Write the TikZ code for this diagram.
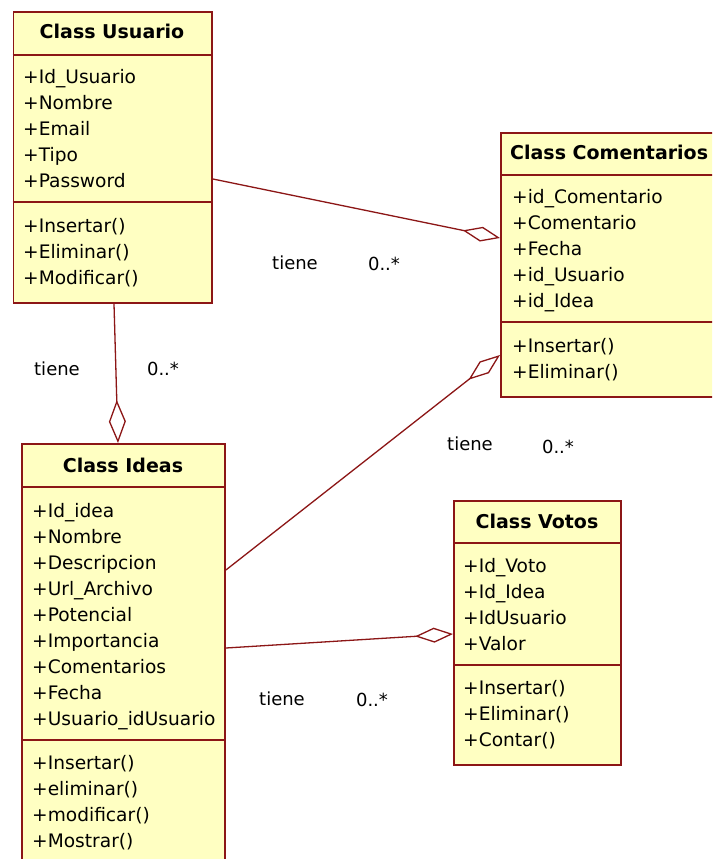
\documentclass[tikz,border=0pt]{standalone}
\usepackage{fontspec}
\setmainfont{DejaVu Sans}
\usetikzlibrary{arrows.meta}
\definecolor{umlline}{RGB}{140,22,22}
\definecolor{umlfill}{RGB}{255,255,194}
\tikzset{
  classbox/.style={draw=umlline, fill=umlfill, line width=1.9pt, rectangle, anchor=north west, inner sep=0pt},
  sepline/.style={draw=umlline, line width=1.7pt},
  member/.style={anchor=base west, inner sep=0pt, font=\fontsize{18.6}{22}\selectfont},
  ctitle/.style={anchor=base, inner sep=0pt, font=\bfseries\fontsize{19}{22}\selectfont},
  assoc/.style={draw=umlline, line width=1.3pt, -{Diamond[open, length=38pt, width=15pt]}},
  lbl/.style={inner sep=0pt, font=\fontsize{18}{22}\selectfont}
}
\begin{document}
\begin{tikzpicture}[x=1pt, y=-1pt]
\clip (0,0) rectangle (712,859);
\fill[white] (0,0) rectangle (712,859);

% ---- class boxes ----
\node[classbox, minimum width=198.5pt, minimum height=291pt] (usuario) at (12.5,11) {};
\node[classbox, minimum width=225pt, minimum height=264pt] (comentarios) at (500,132) {};
\node[classbox, minimum width=203pt, minimum height=440pt] (ideas) at (21,443) {};
\node[classbox, minimum width=167pt, minimum height=264pt] (votos) at (453,500) {};

% compartment separators
\draw[sepline] (usuario.west |- 0,55) -- (usuario.east |- 0,55);
\draw[sepline] (usuario.west |- 0,202) -- (usuario.east |- 0,202);
\draw[sepline] (comentarios.west |- 0,175) -- (comentarios.east |- 0,175);
\draw[sepline] (comentarios.west |- 0,322) -- (comentarios.east |- 0,322);
\draw[sepline] (ideas.west |- 0,487) -- (ideas.east |- 0,487);
\draw[sepline] (ideas.west |- 0,740) -- (ideas.east |- 0,740);
\draw[sepline] (votos.west |- 0,543) -- (votos.east |- 0,543);
\draw[sepline] (votos.west |- 0,665) -- (votos.east |- 0,665);

% ---- Usuario ----
\node[ctitle] (usuarioT) at (112,39) {Class Usuario};
\foreach \t [count=\i] in {+Id\_Usuario, +Nombre, +Email, +Tipo, +Password}
  \node[member] (ua\i) at (23,{57+26*\i}) {\t};
\foreach \t [count=\i] in {+Insertar(), +Eliminar(), +Modificar()}
  \node[member] (um\i) at (23,{206+26*\i}) {\t};

% ---- Comentarios ----
\node[ctitle, anchor=base west] (comentariosT) at (510,159) {Class Comentarios};
\foreach \t [count=\i] in {+id\_Comentario, +Comentario, +Fecha, +id\_Usuario, +id\_Idea}
  \node[member] (ca\i) at (512,{177+26*\i}) {\t};
\foreach \t [count=\i] in {+Insertar(), +Eliminar()}
  \node[member] (cm\i) at (512,{326+26*\i}) {\t};

% ---- Ideas ----
\node[ctitle] (ideasT) at (123,472) {Class Ideas};
\foreach \t [count=\i] in {+Id\_idea, +Nombre, +Descripcion, +Url\_Archivo, +Potencial, +Importancia, +Comentarios, +Fecha, +Usuario\_idUsuario}
  \node[member] (ia\i) at (32,{491+26*\i}) {\t};
\foreach \t [count=\i] in {+Insertar(), +eliminar(), +modificar(), +Mostrar()}
  \node[member] (im\i) at (32,{743+26*\i}) {\t};

% ---- Votos ----
\node[ctitle] (votosT) at (537,528) {Class Votos};
\foreach \t [count=\i] in {+Id\_Voto, +Id\_Idea, +IdUsuario, +Valor}
  \node[member] (va\i) at (463,{546+26*\i}) {\t};
\foreach \t [count=\i] in {+Insertar(), +Eliminar(), +Contar()}
  \node[member] (vm\i) at (463,{668+26*\i}) {\t};

% ---- associations (aggregation diamonds) ----
\draw[assoc] (usuario.east |- 0,179) -- (comentarios.west |- 0,238);
\draw[assoc, -{Diamond[open, length=43pt, width=17pt]}] (usuario.south -| 114,0) -- (ideas.north -| 118,0);
\draw[assoc, -{Diamond[open, length=40pt, width=15pt]}] (ideas.east |- 0,570) -- (comentarios.west |- 0,355);
\draw[assoc] (ideas.east |- 0,648) -- (votos.west |- 0,634);

% ---- association labels ----
\node[lbl] (l1a) at (295,263) {tiene};
\node[lbl] (l1b) at (384,264) {0..*};
\node[lbl] (l2a) at (57,369) {tiene};
\node[lbl] (l2b) at (163,369) {0..*};
\node[lbl] (l3a) at (470,444) {tiene};
\node[lbl] (l3b) at (558,447) {0..*};
\node[lbl] (l4a) at (282,699) {tiene};
\node[lbl] (l4b) at (372,700) {0..*};
\end{tikzpicture}
\end{document}
